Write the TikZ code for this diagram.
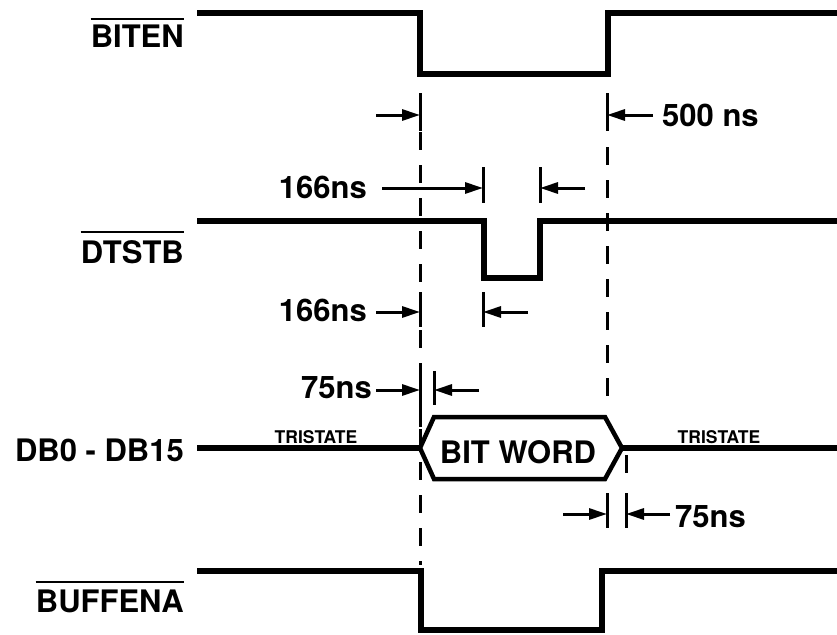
\documentclass[tikz,border=0pt]{standalone}
\usepackage{fontspec}
\setmainfont{TeX Gyre Heros}
\usetikzlibrary{arrows.meta}
\tikzset{
  sig/.style={line width=5.5pt, line join=miter, line cap=butt},
  hexa/.style={line width=4.5pt, line join=miter},
  guide/.style={line width=3pt, dash pattern=on 18pt off 15pt},
  tick/.style={line width=3pt},
  dim/.style={line width=3pt, -{Triangle[length=18pt,width=11pt]}},
  lbl/.style={font=\fontsize{31}{36}\selectfont\bfseries, inner sep=0pt},
  small/.style={font=\fontsize{17.5}{20}\selectfont\bfseries, inner sep=0pt},
  bar/.style={line width=2pt},
}
\begin{document}
\begin{tikzpicture}[x=1pt,y=-1pt]
\useasboundingbox (0,0) rectangle (837,634);

% signal labels
\node[lbl, anchor=east] (biten) at (184,36) {BITEN};
\node[lbl, anchor=east] (dtstb) at (184,252.5) {DTSTB};
\node[lbl, anchor=east] (db) at (184,450) {DB0 - DB15};
\node[lbl, anchor=east] (buff) at (184,601) {BUFFENA};
\draw[bar] ([yshift=5pt]biten.north west) -- ([yshift=5pt]biten.north east);
\draw[bar] ([yshift=9pt]dtstb.north west) -- ([yshift=9pt]dtstb.north east);
\draw[bar] ([yshift=7pt]buff.north west) -- ([yshift=7pt]buff.north east);

% waveforms
\draw[sig] (197,13) -- (420,13) -- (420,74) -- (608,74) -- (608,13) -- (837,13);
\draw[sig] (197,221) -- (484,221) -- (484,278) -- (540,278) -- (540,221) -- (837,221);
\draw[sig] (197,448) -- (420,448);
\draw[sig] (622,448) -- (837,448);
\draw[sig] (197,571) -- (421,571) -- (421,630) -- (602,630) -- (602,571) -- (837,571);

% bit word hexagon
\draw[hexa] (420,448) -- (434,417) -- (605,417) -- (622,448) -- (605,479) -- (434,479) -- cycle;
\node[lbl] (bw) at (518,452) {BIT WORD};
\node[small] (tsl) at (316,437) {TRISTATE};
\node[small] (tsr) at (719,437) {TRISTATE};

% guide lines
\draw[guide] (420,132) -- (420,565);
\draw[guide] (607,147) -- (607,402);
\draw[guide] (626,455) -- (626,476);

% ticks
\draw[tick] (420,93) -- (420,131);
\draw[tick] (607,93) -- (607,131);
\draw[tick] (483,167) -- (483,203);
\draw[tick] (540,167) -- (540,203);
\draw[tick] (420,292) -- (420,327);
\draw[tick] (483,292) -- (483,327);
\draw[tick] (420,369) -- (420,427);
\draw[tick] (434,371) -- (434,405);
\draw[tick] (607,493) -- (607,528);
\draw[tick] (626,493) -- (626,528);

% dimension arrows and labels
\coordinate (a1s) at (376,115); \coordinate (a1e) at (420,115);
\draw[dim] (a1s) -- (a1e);
\coordinate (a2s) at (653,115); \coordinate (a2e) at (607,115);
\draw[dim] (a2s) -- (a2e);
\node[lbl, anchor=west] (ns500) at (662,115) {500 ns};

\node[lbl, anchor=east] (ns166a) at (367,187.5) {166ns};
\coordinate (a3e) at (483,188);
\draw[dim] (382,188) -- (a3e);
\coordinate (a4e) at (540,188);
\draw[dim] (585,188) -- (a4e);

\node[lbl, anchor=east] (ns166b) at (367,310) {166ns};
\coordinate (a5e) at (420,312);
\draw[dim] (376,312) -- (a5e);
\coordinate (a6e) at (483,312);
\draw[dim] (528,312) -- (a6e);

\node[lbl, anchor=east] (ns75a) at (372,388) {75ns};
\coordinate (a7e) at (420,390);
\draw[dim] (376,390) -- (a7e);
\coordinate (a8e) at (434,390);
\draw[dim] (479,390) -- (a8e);

\coordinate (a9e) at (607,514);
\draw[dim] (563,514) -- (a9e);
\coordinate (a10e) at (626,514);
\draw[dim] (670,514) -- (a10e);
\node[lbl, anchor=west] (ns75b) at (675,517) {75ns};
\end{tikzpicture}
\end{document}
